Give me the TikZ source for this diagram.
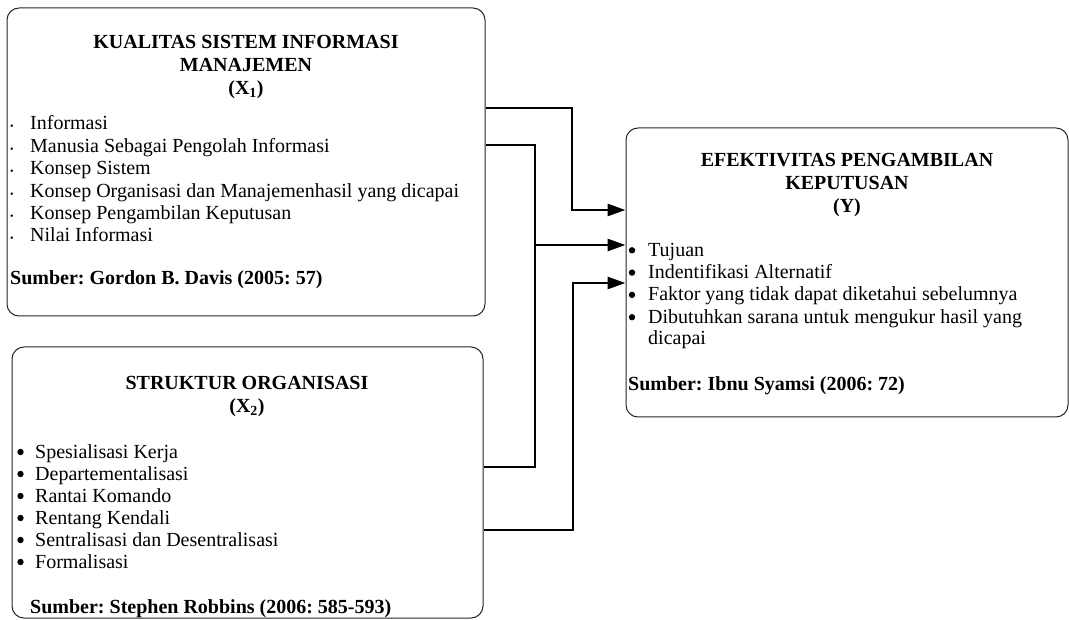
\documentclass[tikz,border=0pt]{standalone}
\usepackage{fontspec}
\setmainfont{Liberation Serif}
\usetikzlibrary{arrows.meta}
\frenchspacing
\tikzset{
  box/.style={draw=black!85, line width=1pt, rounded corners=12pt, inner sep=0pt},
  title/.style={font=\bfseries\fontsize{20}{23}\selectfont, align=center, inner sep=0pt, anchor=north},
  item/.style={font=\fontsize{20}{22}\selectfont, inner sep=0pt, anchor=base west},
  src/.style={font=\bfseries\fontsize{20}{22}\selectfont, inner sep=0pt, anchor=base west},
  conn/.style={line width=2.8pt},
  arr/.style={-{Triangle[length=18pt,width=12pt]}}
}
\newcommand{\smbul}{\makebox[20pt][l]{\raisebox{0pt}[0pt][0pt]{\fontsize{10}{10}\selectfont\textbullet}}}
\begin{document}
\begin{tikzpicture}[x=1pt, y=-1pt]
\useasboundingbox (0,0) rectangle (1069,620);
% kotak kiri atas
\node[box, minimum width=478pt, minimum height=308pt] (x1) at (246,162) {};
\node[title] (t1) at (246,35) {KUALITAS SISTEM INFORMASI\\MANAJEMEN\\(X\textsubscript{1})};
\foreach \t [count=\i] in {Informasi, Manusia Sebagai Pengolah Informasi, Konsep Sistem,
    Konsep Organisasi dan Manajemenhasil yang dicapai, Konsep Pengambilan Keputusan, Nilai Informasi}
  \node[item] (a\i) at (10,107.6+22.4*\i) {\smbul\t};
\node[src] (s1) at (10,285) {Sumber: Gordon B. Davis (2005: 57)};
% kotak kiri bawah
\node[box, minimum width=471pt, minimum height=271pt] (x2) at (247.5,482.5) {};
\node[title] (t2) at (247,376) {STRUKTUR ORGANISASI\\(X\textsubscript{2})};
\foreach \t [count=\i] in {Spesialisasi Kerja, Departementalisasi, Rantai Komando,
    Rentang Kendali, Sentralisasi dan Desentralisasi, Formalisasi}
{
  \node[item] (b\i) at (35,436+22*\i) {\t};
  \fill (b\i.base west) ++(-14.5,-6) circle (3.2);
}
\node[src] (s2) at (30,613) {Sumber: Stephen Robbins (2006: 585-593)};
% kotak kanan
\node[box, minimum width=442pt, minimum height=289pt] (y) at (847,272.5) {};
\node[title] (t3) at (847,153) {EFEKTIVITAS PENGAMBILAN\\KEPUTUSAN\\(Y)};
\foreach \t [count=\i] in {Tujuan, Indentifikasi Alternatif, Faktor yang tidak dapat diketahui sebelumnya,
    Dibutuhkan sarana untuk mengukur hasil yang}
{
  \node[item] (c\i) at (648,234+22.3*\i) {\t};
  \fill (c\i.base west) ++(-16,-6) circle (3.2);
}
\node[item] (c5) at (648,345) {dicapai};
\node[src] (s3) at (628,391) {Sumber: Ibnu Syamsi (2006: 72)};
% panah
\coordinate (k1) at (572,210);
\coordinate (k2) at (535,245);
\coordinate (k3) at (573,283);
\draw[conn, arr] (x1.east |- 0,108) -| (k1) -- (y.west |- k1);
\draw[conn] (x1.east |- 0,145) -| (k2) |- (x2.east |- 0,467);
\draw[conn, arr] (k2) -- (y.west |- k2);
\draw[conn, arr] (x2.east |- 0,530) -| (k3) -- (y.west |- k3);
\end{tikzpicture}
\end{document}
